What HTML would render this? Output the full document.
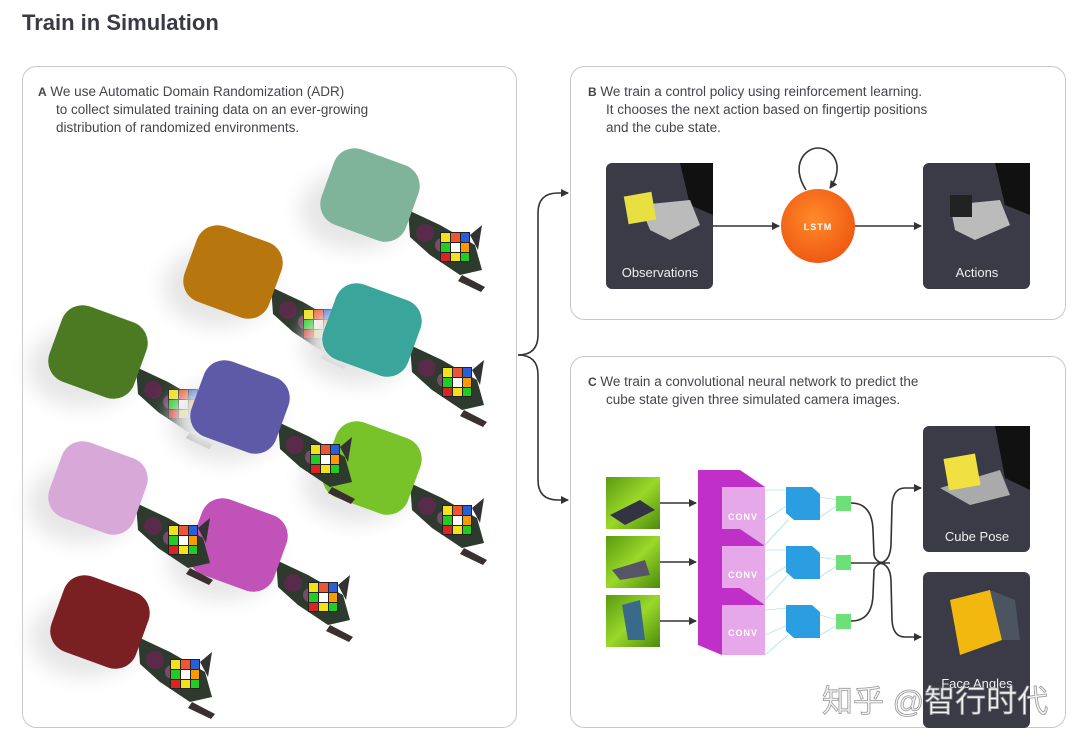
<!DOCTYPE html>
<html><head><meta charset="utf-8"><style>
html,body{margin:0;padding:0;background:#fff;}
body{width:1080px;height:746px;position:relative;overflow:hidden;font-family:"Liberation Sans",sans-serif;}
svg{position:absolute;left:0;top:0;}
</style></head><body>
<svg width="1080" height="746" viewBox="0 0 1080 746" font-family="Liberation Sans, sans-serif">
<defs>
<radialGradient id="lstm" cx="45%" cy="40%" r="60%"><stop offset="0" stop-color="#ff8a2a"/><stop offset="1" stop-color="#ef5a12"/></radialGradient>
<linearGradient id="gimg" x1="0" y1="0" x2="1" y2="1"><stop offset="0" stop-color="#5a9a10"/><stop offset="0.5" stop-color="#9ad82a"/><stop offset="1" stop-color="#4c8a0c"/></linearGradient>
<marker id="ar" markerWidth="8" markerHeight="8" refX="7" refY="4" orient="auto" markerUnits="userSpaceOnUse"><path d="M0,0 L8,4 L0,8 z" fill="#333"/></marker>
<filter id="sh" x="-50%" y="-50%" width="200%" height="200%"><feGaussianBlur stdDeviation="10"/></filter>
<g id="cube"><rect x="-15" y="-15" width="30" height="30" fill="#222"/>
<rect x="-14" y="-14" width="9" height="9" fill="#f2e21a"/><rect x="-4" y="-14" width="9" height="9" fill="#e53"/><rect x="6" y="-14" width="8" height="9" fill="#2b5fd8"/>
<rect x="-14" y="-4" width="9" height="9" fill="#2c2"/><rect x="-4" y="-4" width="9" height="9" fill="#fff"/><rect x="6" y="-4" width="8" height="9" fill="#f90"/>
<rect x="-14" y="6" width="9" height="8" fill="#d22"/><rect x="-4" y="6" width="9" height="8" fill="#f2e21a"/><rect x="6" y="6" width="8" height="8" fill="#2c2"/></g>
<g id="hand"><path d="M38,15 L70,30 L105,50 L112,75 L90,80 L60,60 L40,42 Z" fill="#2e3a2e"/><circle cx="55" cy="38" r="9" fill="#5a2a4a"/><circle cx="72" cy="50" r="7" fill="#7a4a6a"/><path d="M100,40 L112,30 L108,55 Z" fill="#333"/><path d="M92,80 L115,92 L111,97 L88,86 Z" fill="#3a3030"/><use href="#cube" x="85" y="52"/></g>
</defs>

<text x="22" y="30" font-size="22" font-weight="bold" fill="#3a3a44">Train in Simulation</text>

<rect x="22.5" y="66.5" width="494" height="661" rx="14" fill="#fff" stroke="#c8c8cc"/>
<rect x="570.5" y="66.5" width="495" height="253" rx="14" fill="#fff" stroke="#c8c8cc"/>
<rect x="570.5" y="356.5" width="495" height="371" rx="14" fill="#fff" stroke="#c8c8cc"/>

<g font-size="13.5" fill="#44444c">
<text x="38" y="96"><tspan font-weight="bold" font-size="12">A</tspan>  We use Automatic Domain Randomization (ADR)</text>
<text x="56" y="114">to collect simulated training data on an ever-growing</text>
<text x="56" y="132">distribution of randomized environments.</text>
<text x="588" y="96"><tspan font-weight="bold" font-size="12">B</tspan>  We train a control policy using reinforcement learning.</text>
<text x="606" y="114">It chooses the next action based on fingertip positions</text>
<text x="606" y="132">and the cube state.</text>
<text x="588" y="386"><tspan font-weight="bold" font-size="12">C</tspan>  We train a convolutional neural network to predict the</text>
<text x="606" y="404">cube state given three simulated camera images.</text>
</g>

<!-- robots -->
<g>
<g transform="translate(370,195)"><ellipse cx="-15" cy="15" rx="55" ry="40" fill="#e6e6e6" filter="url(#sh)"/><use href="#hand"/><rect x="-45" y="-40" width="90" height="80" rx="22" transform="rotate(20)" fill="#7fb39a"/></g>
<g transform="translate(233,272)"><ellipse cx="-15" cy="15" rx="55" ry="40" fill="#e6e6e6" filter="url(#sh)"/><use href="#hand"/><rect x="-45" y="-40" width="90" height="80" rx="22" transform="rotate(20)" fill="#b8760f"/></g>
<g transform="translate(372,330)"><ellipse cx="-15" cy="15" rx="55" ry="40" fill="#e6e6e6" filter="url(#sh)"/><use href="#hand"/><rect x="-45" y="-40" width="90" height="80" rx="22" transform="rotate(20)" fill="#3aa59a"/></g>
<g transform="translate(98,352)"><ellipse cx="-15" cy="15" rx="55" ry="40" fill="#e6e6e6" filter="url(#sh)"/><use href="#hand"/><rect x="-45" y="-40" width="90" height="80" rx="22" transform="rotate(20)" fill="#4b7a22"/></g>
<g transform="translate(372,468)"><ellipse cx="-15" cy="15" rx="55" ry="40" fill="#e6e6e6" filter="url(#sh)"/><use href="#hand"/><rect x="-45" y="-40" width="90" height="80" rx="22" transform="rotate(20)" fill="#78c22a"/></g>
<g transform="translate(240,407)"><ellipse cx="-15" cy="15" rx="55" ry="40" fill="#e6e6e6" filter="url(#sh)"/><use href="#hand"/><rect x="-45" y="-40" width="90" height="80" rx="22" transform="rotate(20)" fill="#5e5aa8"/></g>
<g transform="translate(238,545)"><ellipse cx="-15" cy="15" rx="55" ry="40" fill="#e6e6e6" filter="url(#sh)"/><use href="#hand"/><rect x="-45" y="-40" width="90" height="80" rx="22" transform="rotate(20)" fill="#c052b8"/></g>
<g transform="translate(98,488)"><ellipse cx="-15" cy="15" rx="55" ry="40" fill="#e6e6e6" filter="url(#sh)"/><use href="#hand"/><rect x="-45" y="-40" width="90" height="80" rx="22" transform="rotate(20)" fill="#d8a8d8"/></g>
<g transform="translate(100,622)"><ellipse cx="-15" cy="15" rx="55" ry="40" fill="#e6e6e6" filter="url(#sh)"/><use href="#hand"/><rect x="-45" y="-40" width="90" height="80" rx="22" transform="rotate(20)" fill="#7a1f22"/></g>
</g>

<!-- bracket connectors -->
<g fill="none" stroke="#333" stroke-width="1.6">
<path d="M518,355 Q538,355 538,335 L538,213 Q538,193 558,193 L568,193" marker-end="url(#ar)"/>
<path d="M518,355 Q538,355 538,375 L538,480 Q538,500 558,500 L568,500" marker-end="url(#ar)"/>
</g>

<!-- Panel B -->
<rect x="606" y="163" width="107" height="126" rx="6" fill="#3a3b47"/>
<path d="M680,163 L713,163 L713,215 L690,205 Z" fill="#111"/>
<path d="M640,205 L690,200 L700,225 L670,240 L650,230 Z" fill="#bbb"/>
<g transform="translate(640,208) rotate(-10)"><rect x="-14" y="-14" width="28" height="28" fill="#e8e040"/></g>
<text x="660" y="277" font-size="13" fill="#eee" text-anchor="middle">Observations</text>
<rect x="923" y="163" width="107" height="126" rx="6" fill="#3a3b47"/>
<path d="M995,163 L1030,163 L1030,215 L1005,205 Z" fill="#111"/>
<path d="M950,205 L1000,200 L1010,225 L975,240 L955,230 Z" fill="#bbb"/>
<rect x="950" y="195" width="22" height="22" fill="#222"/>
<text x="977" y="277" font-size="13" fill="#eee" text-anchor="middle">Actions</text>
<circle cx="818" cy="226" r="37" fill="url(#lstm)"/>
<text x="818" y="230" font-size="9" font-weight="bold" fill="#fff" text-anchor="middle" letter-spacing="1">LSTM</text>
<g fill="none" stroke="#333" stroke-width="1.6">
<line x1="713" y1="226" x2="779" y2="226" marker-end="url(#ar)"/>
<line x1="855" y1="226" x2="921" y2="226" marker-end="url(#ar)"/>
<path d="M806,190 C790,165 805,148 818,148 C832,148 846,165 830,188" marker-end="url(#ar)"/>
</g>

<!-- Panel C -->
<g>
<rect x="606" y="477" width="54" height="52" fill="url(#gimg)"/>
<rect x="606" y="536" width="54" height="52" fill="url(#gimg)"/>
<rect x="606" y="595" width="54" height="52" fill="url(#gimg)"/>
<path d="M610,515 L640,500 L655,510 L625,525 Z" fill="#334"/>
<path d="M612,570 L645,560 L650,575 L620,580 Z" fill="#556"/>
<path d="M622,605 L640,600 L645,640 L628,640 Z" fill="#3a6a8a"/>
</g>
<g stroke="#8fd8e8" stroke-width="0.6" fill="none">
<path d="M765,490 L788,490 M765,520 L788,505 M765,545 L788,520"/>
<path d="M765,550 L788,550 M765,580 L788,565 M765,600 L788,575"/>
<path d="M765,610 L788,608 M765,635 L788,625 M765,655 L788,635"/>
<path d="M820,497 L838,500 M820,517 L838,505 M820,557 L838,560 M820,577 L838,565 M820,615 L838,620 M820,635 L838,625"/>
</g>
<g>
<g><path d="M698,470 L740,470 L765,487 L765,545 L722,545 L698,530 Z" fill="#c030c8"/><rect x="722" y="487" width="43" height="58" fill="#e6a8e8"/><text x="743" y="520" font-size="9" font-weight="bold" fill="#fff" text-anchor="middle" letter-spacing="1">CONV</text></g>
<g><path d="M698,529 L740,529 L765,546 L765,604 L722,604 L698,589 Z" fill="#c030c8"/><rect x="722" y="546" width="43" height="58" fill="#e6a8e8"/><text x="743" y="578" font-size="9" font-weight="bold" fill="#fff" text-anchor="middle" letter-spacing="1">CONV</text></g>
<g><path d="M698,588 L740,588 L765,605 L765,655 L722,655 L698,645 Z" fill="#c030c8"/><rect x="722" y="605" width="43" height="50" fill="#e6a8e8"/><text x="743" y="636" font-size="9" font-weight="bold" fill="#fff" text-anchor="middle" letter-spacing="1">CONV</text></g>
<g fill="#2a9ee0"><path d="M786,487 L812,487 L820,494 L820,520 L794,520 L786,513 Z"/><path d="M786,546 L812,546 L820,553 L820,579 L794,579 L786,572 Z"/><path d="M786,605 L812,605 L820,612 L820,638 L794,638 L786,631 Z"/></g>
<g fill="#6ee07a"><rect x="836" y="496" width="15" height="15"/><rect x="836" y="555" width="15" height="15"/><rect x="836" y="614" width="15" height="15"/></g>
</g>
<g fill="none" stroke="#333" stroke-width="1.6">
<line x1="660" y1="503" x2="696" y2="503" marker-end="url(#ar)"/>
<line x1="660" y1="562" x2="696" y2="562" marker-end="url(#ar)"/>
<line x1="660" y1="621" x2="696" y2="621" marker-end="url(#ar)"/>
<path d="M851,503 Q872,503 873,530 L874,555 Q876,563 885,563"/>
<path d="M851,621 Q872,621 873,595 L874,570 Q876,563 885,563"/>
<line x1="851" y1="563" x2="890" y2="563"/>
<path d="M878,563 Q890,563 891,545 L892,505 Q893,488 905,488 L921,488" marker-end="url(#ar)"/>
<path d="M878,563 Q890,563 891,580 L892,620 Q893,637 905,637 L921,637" marker-end="url(#ar)"/>
</g>
<rect x="923" y="426" width="107" height="126" rx="6" fill="#3a3b47"/>
<path d="M995,426 L1030,426 L1030,490 L1005,478 Z" fill="#111"/>
<path d="M940,488 L1000,470 L1010,495 L970,505 Z" fill="#aaa"/>
<g transform="translate(962,472) rotate(-10)"><rect x="-16" y="-16" width="32" height="32" fill="#f0e040"/></g>
<text x="977" y="541" font-size="13" fill="#eee" text-anchor="middle">Cube Pose</text>
<rect x="923" y="572" width="107" height="156" rx="6" fill="#3a3b47"/>
<path d="M950,600 L990,590 L1002,640 L960,655 Z" fill="#f2b810"/>
<path d="M990,590 L1015,600 L1020,640 L1002,640 Z" fill="#4a5560"/>
<text x="977" y="688" font-size="13" fill="#eee" text-anchor="middle">Face Angles</text>
<text x="822" y="712" font-size="31" fill="#f4f4f4" stroke="#999" stroke-width="0.8" font-family="Liberation Sans, Noto Sans CJK SC, sans-serif">知乎 @智行时代</text>
</svg>
</body></html>
